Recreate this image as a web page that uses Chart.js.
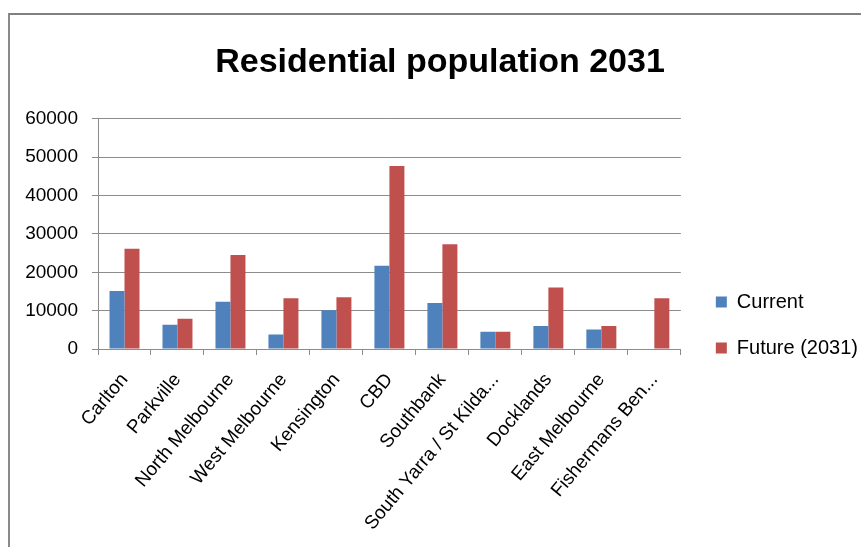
<!DOCTYPE html>
<html>
<head>
<meta charset="utf-8">
<script src="https://cdn.jsdelivr.net/npm/chart.js@4.4.1/dist/chart.umd.min.js"></script>
<style>
  html, body { margin: 0; padding: 0; background: #ffffff; }
  #wrap { position: relative; width: 861px; height: 547px; overflow: hidden; }
  #frame { position: absolute; left: 8px; top: 13px; right: -10px; bottom: -10px;
           border-top: 2px solid #808080; border-left: 2px solid #8a8a8a; }
  canvas { position: absolute; left: 0; top: 0; }
</style>
</head>
<body>
<div id="wrap">
  <div id="frame"></div>
  <canvas id="c" width="861" height="547"></canvas>
</div>
<script>
const titleText = 'Residential population 2031';
const categories = ['Carlton', 'Parkville', 'North Melbourne', 'West Melbourne', 'Kensington', 'CBD',
  'Southbank', 'South Yarra / St Kilda...', 'Docklands', 'East Melbourne', 'Fishermans Ben...'];
const seriesNames = ['Current', 'Future (2031)'];
const currentValues = [15100, 6300, 12300, 3800, 10100, 21700, 12000, 4500, 6000, 5100, 0];
const futureValues = [26100, 7900, 24500, 13200, 13500, 47700, 27300, 4500, 16000, 6000, 13200];
const yTicks = [0, 10000, 20000, 30000, 40000, 50000, 60000];

const FONT = "'Liberation Sans', Arial, sans-serif";
const GRID = '#8c8c8c';

new Chart(document.getElementById('c'), {
  type: 'bar',
  data: {
    labels: categories,
    datasets: [
      { label: seriesNames[0], data: currentValues, backgroundColor: '#4F81BD', borderWidth: 0 },
      { label: seriesNames[1], data: futureValues, backgroundColor: '#C0504D', borderWidth: 0 }
    ]
  },
  options: {
    responsive: false,
    animation: false,
    devicePixelRatio: 1,
    datasets: { bar: { categoryPercentage: 0.566, barPercentage: 1.0 } },
    layout: { padding: { left: 12, top: 16, right: -7, bottom: 0 } },
    plugins: {
      tooltip: { enabled: false },
      title: {
        display: true,
        text: titleText,
        color: '#000000',
        font: { family: FONT, size: 34, weight: 'bold', lineHeight: 1.2 },
        padding: { top: 26, bottom: 36 }
      },
      legend: {
        position: 'right',
        align: 'start',
        title: { display: true, text: ' ', font: { family: FONT, size: 20, lineHeight: 1.2 }, padding: { top: 226, bottom: 0 } },
        labels: {
          color: '#000000',
          font: { family: FONT, size: 20 },
          boxWidth: 11,
          boxHeight: 11,
          padding: 26
        }
      }
    },
    scales: {
      x: {
        grid: { display: true, offset: true, drawOnChartArea: false, drawTicks: true, tickLength: 6, color: GRID },
        border: { display: true, color: GRID, width: 1 },
        ticks: {
          color: '#000000',
          font: { family: FONT, size: 19 },
          minRotation: 50,
          maxRotation: 50,
          autoSkip: false,
          padding: 14
        },
        afterFit: s => { s.height = 198; }
      },
      y: {
        min: 0,
        max: 60000,
        afterBuildTicks: s => { s.ticks = yTicks.map(v => ({ value: v })); },
        grid: { color: GRID, tickLength: 6, drawTicks: true, lineWidth: 1 },
        border: { display: true, color: GRID, width: 1 },
        ticks: {
          color: '#000000',
          font: { family: FONT, size: 19 },
          padding: 14,
          callback: v => String(v)
        },
        afterFit: s => { s.width = 86; }
      },
      spacer: {
        type: 'linear',
        axis: 'y',
        position: 'right',
        display: false,
        afterFit: s => { s.width = 9; }
      }
    }
  }
});
</script>
</body>
</html>
